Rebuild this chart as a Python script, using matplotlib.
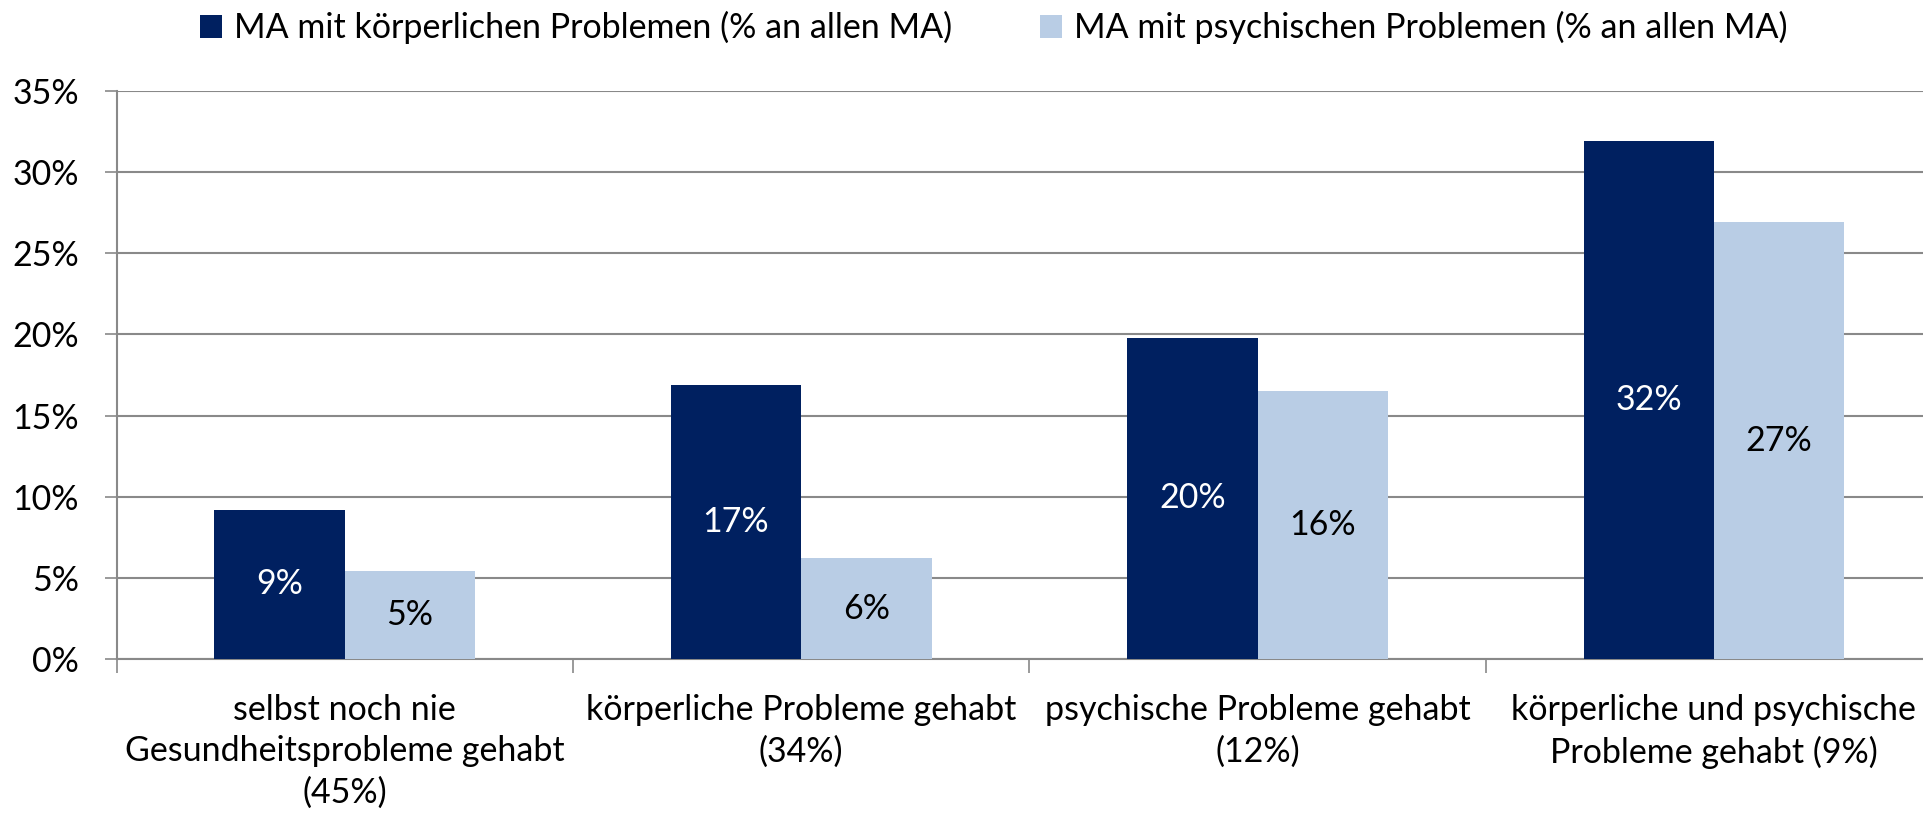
import matplotlib
matplotlib.use("Agg")
import matplotlib.pyplot as plt
from matplotlib.patches import Patch

categories = ["selbst noch nie\nGesundheitsprobleme gehabt\n(45%)",
              "körperliche Probleme gehabt\n(34%)",
              "psychische Probleme gehabt\n(12%)",
              "körperliche und psychische\nProbleme gehabt (9%)"]
series_names = ["MA mit körperlichen Problemen (% an allen MA)",
                "MA mit psychischen Problemen (% an allen MA)"]
koerperlich = [9.2, 16.9, 19.8, 31.9]
psychisch = [5.4, 6.2, 16.5, 26.9]
value_labels_k = ["9%", "17%", "20%", "32%"]
value_labels_p = ["5%", "6%", "16%", "27%"]
yticks = [0, 5, 10, 15, 20, 25, 30, 35]

DARK = "#002060"
LIGHT = "#B9CDE5"
GRID = "#898989"
FONT = "Lato"
FS = 24.5

plt.rcParams['font.family'] = [FONT, 'DejaVu Sans']

fig = plt.figure(figsize=(19.24, 8.14), dpi=100)
ax = fig.add_axes([0.0606, 0.1905, 0.9488, 0.6978])

w = 1 / 3.5
x = list(range(len(categories)))
xk = [i - w / 2 for i in x]
xp = [i + w / 2 for i in x]
ax.bar(xk, koerperlich, width=w, color=DARK, zorder=3)
ax.bar(xp, psychisch, width=w, color=LIGHT, zorder=3)

for xi, v, t in zip(xk, koerperlich, value_labels_k):
    ax.text(xi, v / 2, t, ha="center", va="center", color="white", fontsize=FS, zorder=4)
for xi, v, t in zip(xp, psychisch, value_labels_p):
    ax.text(xi, v / 2, t, ha="center", va="center", color="black", fontsize=FS, zorder=4)

ax.set_xlim(-0.5, 3.5)
ax.set_ylim(0, 35)
ax.set_yticks(yticks)
ax.set_yticklabels([f"{t}%" for t in yticks], fontsize=FS)
ax.yaxis.grid(True, color=GRID, linewidth=1.5, zorder=0)
ax.tick_params(axis="y", length=9, width=1.2, color=GRID, pad=18)

ax.set_xticks([-0.5, 0.5, 1.5, 2.5, 3.5])
ax.set_xticklabels([])
ax.tick_params(axis="x", which="major", length=10, width=1.2, color=GRID)
ax.set_xticks(x, minor=True)
ax.set_xticklabels(categories, minor=True, fontsize=FS, linespacing=1.37)
ax.tick_params(axis="x", which="minor", length=0, pad=25)

for s in ["top", "right"]:
    ax.spines[s].set_visible(False)
for s in ["left", "bottom"]:
    ax.spines[s].set_color(GRID)
    ax.spines[s].set_linewidth(1.5)

handles = [Patch(facecolor=DARK), Patch(facecolor=LIGHT)]
fig.legend(handles, series_names, loc="center", bbox_to_anchor=(0.5165, 0.966),
           ncol=2, frameon=False, fontsize=FS, handlelength=0.65, handleheight=0.65,
           handletextpad=0.35, columnspacing=2.6)

fig.savefig("out.png", dpi=100)
